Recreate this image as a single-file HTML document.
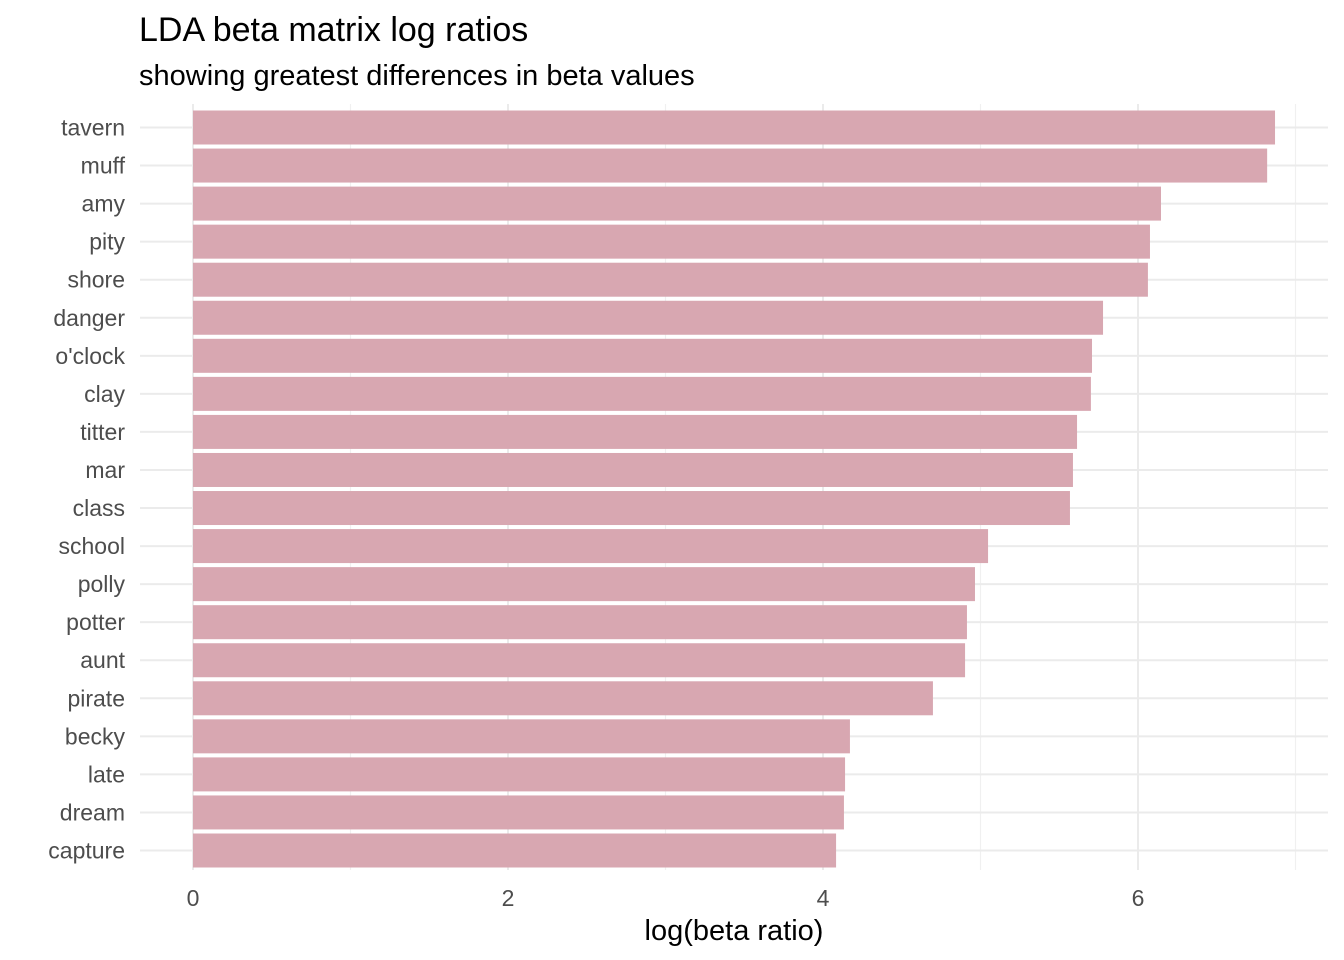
<!DOCTYPE html>
<html><head><meta charset="utf-8">
<style>
html,body{margin:0;padding:0;background:#fff;}
svg{display:block;font-family:"Liberation Sans",Arial,sans-serif;}
</style></head>
<body>
<svg id="chart" width="1344" height="960" viewBox="0 0 1344 960">
  <text x="139" y="41" font-size="34" fill="#000">LDA beta matrix log ratios</text>
  <text x="139" y="85" font-size="29" fill="#000">showing greatest differences in beta values</text>
  <g id="grid"></g>
  <g id="bars"></g>
  <g id="ylabels"></g>
  <g id="xlabels"></g>
  <text x="734" y="940" font-size="29" text-anchor="middle" fill="#000">log(beta ratio)</text>
</svg>
<script>
const categories = ["tavern","muff","amy","pity","shore","danger","o'clock","clay","titter","mar","class","school","polly","potter","aunt","pirate","becky","late","dream","capture"];
const values = [6.87,6.82,6.146,6.076,6.063,5.778,5.708,5.701,5.613,5.587,5.568,5.048,4.965,4.914,4.902,4.698,4.171,4.140,4.133,4.083];
const xTicks = [0,2,4,6];
const xMinor = [1,3,5,7];

const NS="http://www.w3.org/2000/svg";
const panelL=140, panelR=1328, panelT=104, panelB=870;
const x0=193, pxPerUnit=157.5;
const xScale=v=>x0+v*pxPerUnit;
const rowTop=127.5, rowStep=(850.5-127.5)/19, barH=34;
const yScale=i=>rowTop+i*rowStep;
function mk(tag,attrs,parent){const e=document.createElementNS(NS,tag);for(const k in attrs)e.setAttribute(k,attrs[k]);parent.appendChild(e);return e;}
const grid=document.getElementById('grid'),bars=document.getElementById('bars'),yl=document.getElementById('ylabels'),xl=document.getElementById('xlabels');

xMinor.forEach(v=>{const l=mk('line',{x1:xScale(v),x2:xScale(v),y1:panelT,y2:panelB,stroke:'#f0f0f0','stroke-width':1.2},grid);

});
xTicks.forEach(v=>{const l=mk('line',{x1:xScale(v),x2:xScale(v),y1:panelT,y2:panelB,stroke:'#ebebeb','stroke-width':2},grid);


const t=mk('text',{x:xScale(v),y:906,'font-size':23,'text-anchor':'middle',fill:'#4d4d4d'},xl);t.textContent=v;

});
categories.forEach((c,i)=>{const y=yScale(i);
const g=mk('line',{x1:panelL,x2:panelR,y1:y,y2:y,stroke:'#ebebeb','stroke-width':2},grid);


const r=mk('rect',{x:xScale(0),y:y-barH/2,width:xScale(values[i])-xScale(0),height:barH,fill:'#d8a7b1'},bars);


const t=mk('text',{x:125,y:y+8,'font-size':23,'text-anchor':'end',fill:'#4d4d4d'},yl);t.textContent=c;

});
</script>
</body></html>
